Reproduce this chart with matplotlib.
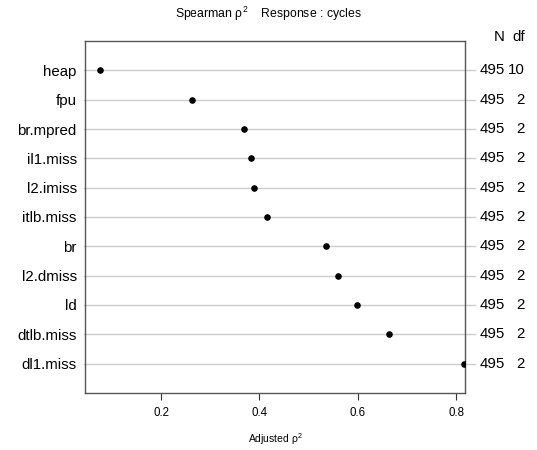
import matplotlib.pyplot as plt
import numpy as np
from matplotlib.transforms import blended_transform_factory

plt.rcParams['font.family'] = ['Liberation Sans', 'DejaVu Sans']
plt.rcParams['mathtext.fontset'] = 'custom'
plt.rcParams['mathtext.rm'] = 'Liberation Sans'

# variables, ordered from top to bottom
variables = ['heap', 'fpu', 'br.mpred', 'il1.miss', 'l2.imiss', 'itlb.miss',
             'br', 'l2.dmiss', 'ld', 'dtlb.miss', 'dl1.miss']
rho2 = [0.076, 0.263, 0.369, 0.383, 0.389, 0.416, 0.536, 0.560, 0.599, 0.664, 0.816]
n_obs = [495] * 11
dfs = [10, 2, 2, 2, 2, 2, 2, 2, 2, 2, 2]

fig = plt.figure(figsize=(5.37, 4.5), dpi=100)
ax = fig.add_axes([85 / 537, 1 - 393 / 450, (465 - 85) / 537, (393 - 41) / 450])

y = np.arange(len(variables), 0, -1)

# grid lines reaching out to the N / df columns
for yi in y:
    ax.plot([0.0433, 0.838], [yi, yi], color='#cccccc', lw=1, clip_on=False, zorder=1)

ax.scatter(rho2, y, s=14, color='black', zorder=3)

ax.set_xlim(0.0453, 0.818)
ax.set_ylim(0.0, 12.0)
ax.set_yticks(y)
ax.set_yticklabels(variables, fontsize=10.8)
ax.tick_params(axis='y', length=0, pad=6)
ax.set_xticks([0.2, 0.4, 0.6, 0.8])
ax.set_xticklabels(['0.2', '0.4', '0.6', '0.8'], fontsize=8.3)
ax.tick_params(axis='x', length=5, direction='out', pad=5, color='#333333')
for sp in ax.spines.values():
    sp.set_color('#555555')
    sp.set_linewidth(1)

ax.set_xlabel('Adjusted ρ$^{\\mathrm{2}}$', fontsize=7.5, labelpad=9)
fig.text(0.5, 1 - 14 / 450, 'Spearman ρ$^{\\mathrm{2}}$    Response : cycles',
         ha='center', va='center', fontsize=8.8)

# N and df columns
col = blended_transform_factory(fig.transFigure, ax.transData)
fig.text(505 / 537, 1 - 37 / 450, 'N', ha='right', va='center', fontsize=10.8)
fig.text(525 / 537, 1 - 37 / 450, 'df', ha='right', va='center', fontsize=10.8)
for yi, n, d in zip(y, n_obs, dfs):
    ax.text(505 / 537, yi, str(n), transform=col, ha='right', va='center', fontsize=10.8)
    ax.text(525 / 537, yi, str(d), transform=col, ha='right', va='center', fontsize=10.8)

fig.savefig('out.png', dpi=100)
